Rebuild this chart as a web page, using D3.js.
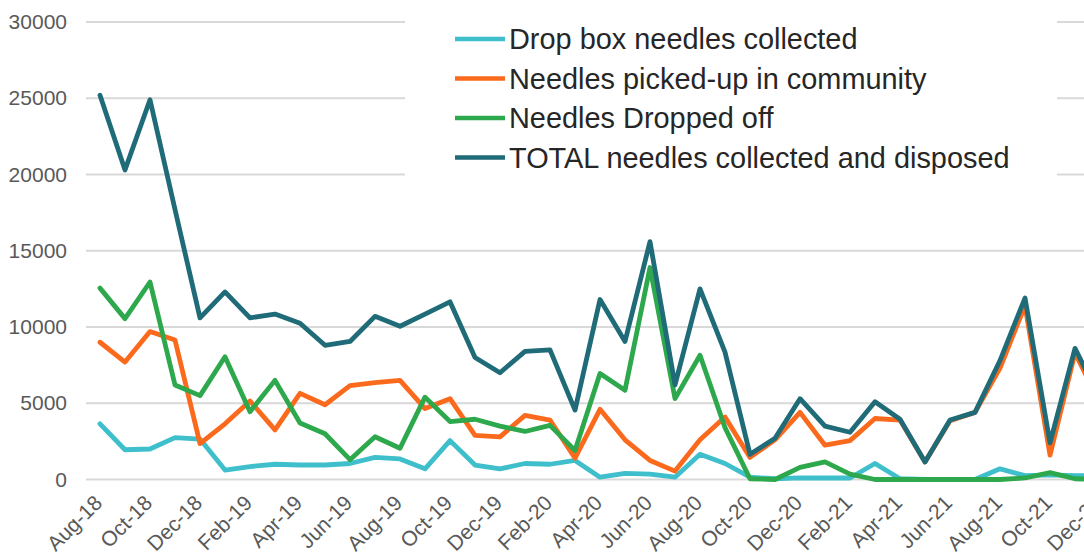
<!DOCTYPE html>
<html>
<head>
<meta charset="utf-8">
<script src="https://cdn.jsdelivr.net/npm/d3@7"></script>
<style>
  html, body { margin: 0; padding: 0; background: #fff; overflow: hidden; }
  svg { display: block; }
  text { font-family: "Liberation Sans", Arial, sans-serif; }
</style>
</head>
<body>
<svg id="chart" width="1084" height="560"></svg>
<script>
// Monthly categories, Aug-18 through Dec-21
const months = [
  "Aug-18","Sep-18","Oct-18","Nov-18","Dec-18",
  "Jan-19","Feb-19","Mar-19","Apr-19","May-19","Jun-19","Jul-19","Aug-19","Sep-19","Oct-19","Nov-19","Dec-19",
  "Jan-20","Feb-20","Mar-20","Apr-20","May-20","Jun-20","Jul-20","Aug-20","Sep-20","Oct-20","Nov-20","Dec-20",
  "Jan-21","Feb-21","Mar-21","Apr-21","May-21","Jun-21","Jul-21","Aug-21","Sep-21","Oct-21","Nov-21","Dec-21"
];

// Axis labels shown every second month
const tickLabels = [
  "Aug-18","Oct-18","Dec-18","Feb-19","Apr-19","Jun-19","Aug-19","Oct-19","Dec-19",
  "Feb-20","Apr-20","Jun-20","Aug-20","Oct-20","Dec-20","Feb-21","Apr-21","Jun-21",
  "Aug-21","Oct-21","Dec-21"
];
const yTicks = [0, 5000, 10000, 15000, 20000, 25000, 30000];

const dropBox = [
  3650, 1950, 2000, 2750, 2650,
  620, 850, 1000, 950, 950, 1050, 1450, 1350, 700, 2550, 950, 700,
  1050, 1000, 1250, 150, 400, 350, 150, 1650, 1050, 150, 50, 100,
  100, 100, 1050, 50, 0, 0, 0, 700, 250, 300, 250, 250
];
const pickedUp = [
  9000, 7700, 9700, 9150, 2350,
  3650, 5150, 3250, 5650, 4900, 6150, 6350, 6500, 4650, 5300, 2900, 2800,
  4200, 3900, 1400, 4600, 2600, 1250, 550, 2600, 4100, 1450, 2600, 4400,
  2250, 2550, 4000, 3900, 1150, 3850, 4400, 7300, 11400, 1600, 8300, 5000
];
const droppedOff = [
  12550, 10550, 12950, 6200, 5500,
  8050, 4450, 6500, 3700, 3000, 1300, 2800, 2050, 5400, 3800, 3950, 3500,
  3150, 3550, 1900, 6950, 5850, 13900, 5300, 8150, 3400, 50, 0, 800,
  1150, 350, 0, 0, 0, 0, 0, 0, 100, 450, 50, 0
];
const total = [
  25200, 20300, 24900, 17700, 10600,
  12300, 10600, 10850, 10250, 8800, 9050, 10700, 10050, 10850, 11650, 8000, 7000,
  8400, 8500, 4550, 11800, 9050, 15600, 6200, 12500, 8350, 1650, 2700, 5300,
  3500, 3100, 5100, 3950, 1150, 3900, 4400, 7800, 11900, 2400, 8600, 5300
];

const seriesNames = [
  "Drop box needles collected",
  "Needles picked-up in community",
  "Needles Dropped off",
  "TOTAL needles collected and disposed"
];
const seriesColors = ["#3fbfcc", "#fb6a1c", "#2ea84c", "#1f6b77"];
const seriesValues = [dropBox, pickedUp, droppedOff, total];

const svg = d3.select("#chart");

// The plot runs on past the right edge of the page
const x = d3.scalePoint().domain(months).range([100, 1100]);
const y = d3.scaleLinear().domain([0, 30000]).range([479.5, 22]);

// Horizontal gridlines
svg.append("g")
  .selectAll("line")
  .data(yTicks)
  .join("line")
  .attr("x1", 86).attr("x2", 1120)
  .attr("y1", d => y(d)).attr("y2", d => y(d))
  .attr("stroke", "#d9d9d9")
  .attr("stroke-width", 2);

// Y axis labels
const yAxis = d3.axisLeft(y).tickValues(yTicks).tickSize(0).tickPadding(0).tickFormat(d3.format("d"));
svg.append("g")
  .attr("transform", "translate(67,0)")
  .call(yAxis)
  .call(g => g.select(".domain").remove())
  .selectAll("text")
  .attr("font-size", 21)
  .attr("font-family", "Liberation Sans, Arial, sans-serif")
  .attr("fill", "#595959");

// X axis labels, rotated
const xAxis = d3.axisBottom(x).tickValues(tickLabels).tickSize(0).tickPadding(0);
svg.append("g")
  .attr("transform", "translate(0,497)")
  .call(xAxis)
  .call(g => g.select(".domain").remove())
  .selectAll("text")
  .attr("font-size", 21)
  .attr("font-family", "Liberation Sans, Arial, sans-serif")
  .attr("fill", "#595959")
  .attr("text-anchor", "end")
  .attr("x", -3)
  .attr("y", 0)
  .attr("dy", "0.35em")
  .attr("transform", "rotate(-45)");

// Legend background box
svg.append("rect")
  .attr("x", 405).attr("y", 8)
  .attr("width", 652).attr("height", 178)
  .attr("fill", "#fff");

// Series lines
const line = d3.line()
  .x((d, i) => x(months[i]))
  .y(d => y(d));

svg.append("g")
  .selectAll("path")
  .data(seriesValues)
  .join("path")
  .attr("d", d => line(d))
  .attr("fill", "none")
  .attr("stroke", (d, i) => seriesColors[i])
  .attr("stroke-width", 4.8)
  .attr("stroke-linejoin", "round")
  .attr("stroke-linecap", "round");

// Legend
const legend = svg.append("g");
const rows = legend.selectAll("g")
  .data(seriesNames)
  .join("g")
  .attr("transform", (d, i) => `translate(455,${39 + i * 39.5})`);
rows.append("line")
  .attr("x1", 0).attr("x2", 50)
  .attr("y1", 0).attr("y2", 0)
  .attr("stroke", (d, i) => seriesColors[i])
  .attr("stroke-width", 4.5);
rows.append("text")
  .attr("x", 54)
  .attr("y", 0)
  .attr("dy", "0.35em")
  .attr("font-size", 28.9)
  .attr("fill", "#262626")
  .text(d => d);
</script>
</body>
</html>
